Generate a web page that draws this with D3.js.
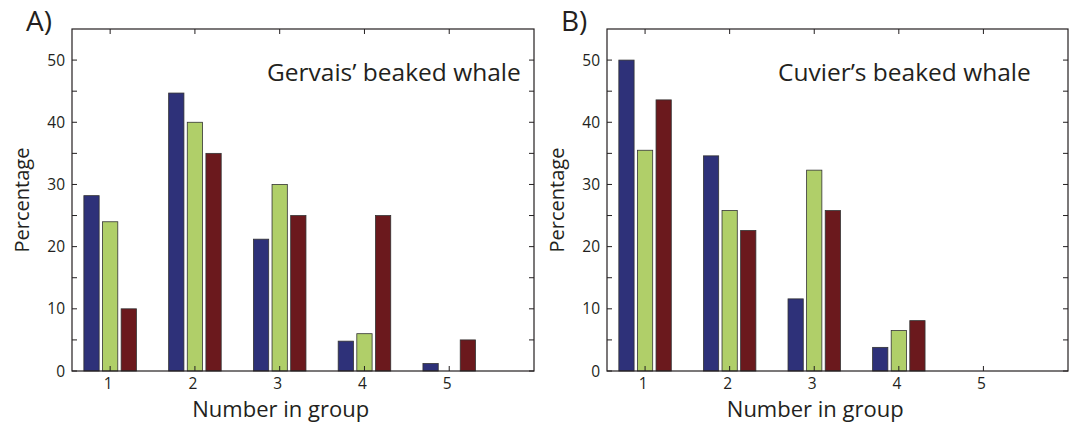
<!DOCTYPE html>
<html>
<head>
<meta charset="utf-8">
<script src="https://cdn.jsdelivr.net/npm/d3@7"></script>
<style>
  body { margin: 0; background: #fff; }
  svg text { font-family: "Open Sans", "Noto Sans", sans-serif; fill: #231f20; }
</style>
</head>
<body>
<svg id="chart" width="1077" height="422"></svg>
<script>
// data (percentage of groups of each size)
const groupSizes = [1, 2, 3, 4, 5];
const seriesNames = ["s1", "s2", "s3"];

const gervaisS1 = [28.2, 44.7, 21.2, 4.8, 1.2];
const gervaisS2 = [24, 40, 30, 6, 0];
const gervaisS3 = [10, 35, 25, 25, 5];

const cuvierS1 = [50, 34.6, 11.6, 3.8, 0];
const cuvierS2 = [35.5, 25.8, 32.3, 6.5, 0];
const cuvierS3 = [43.6, 22.6, 25.8, 8.1, 0];

const yTickLabels = [0, 10, 20, 30, 40, 50];
const yMinorTicks = [5, 15, 25, 35, 45];

const colors = ["#2e3179", "#b0cf69", "#6b191d"];

const panels = [
  { letter: "A)", title: "Gervais\u2019 beaked whale", series: [gervaisS1, gervaisS2, gervaisS3],
    left: 72, right: 534, titleX: 195 },
  { letter: "B)", title: "Cuvier\u2019s beaked whale", series: [cuvierS1, cuvierS2, cuvierS3],
    left: 607, right: 1068, titleX: 171 }
];

const plotTop = 29, plotBottom = 371;
const svg = d3.select("#chart");

// position of each bar inside its group, in data units
const sub = d3.scaleBand()
  .domain(d3.range(seriesNames.length))
  .range([-0.31, 0.31])
  .paddingInner(0.18);

panels.forEach(p => {
  const x = d3.scaleLinear().domain([0.55, 6.0]).range([p.left, p.right]);
  const y = d3.scaleLinear().domain([0, 55]).range([plotBottom, plotTop]);
  const g = svg.append("g");

  // bars
  p.series.forEach((vals, i) => {
    g.selectAll(null)
      .data(vals.map((v, j) => ({ size: groupSizes[j], v })))
      .enter()
      .append("rect")
      .attr("x", d => x(d.size + sub(i)))
      .attr("width", x(sub.bandwidth()) - x(0))
      .attr("y", d => y(d.v))
      .attr("height", d => y(0) - y(d.v))
      .attr("fill", colors[i])
      .attr("stroke", "#333")
      .attr("stroke-width", 0.8);
  });

  // y ticks (inside, left and right)
  const allY = yTickLabels.concat(yMinorTicks);
  g.selectAll(null).data(allY).enter().append("line")
    .attr("x1", p.left).attr("x2", p.left + 5)
    .attr("y1", d => y(d)).attr("y2", d => y(d))
    .attr("stroke", "#231f20");
  g.selectAll(null).data(allY).enter().append("line")
    .attr("x1", p.right).attr("x2", p.right - 5)
    .attr("y1", d => y(d)).attr("y2", d => y(d))
    .attr("stroke", "#231f20");

  // x ticks (inside, bottom and top)
  g.selectAll(null).data(groupSizes).enter().append("line")
    .attr("x1", d => x(d)).attr("x2", d => x(d))
    .attr("y1", plotBottom).attr("y2", plotBottom - 5)
    .attr("stroke", "#231f20");
  g.selectAll(null).data(groupSizes).enter().append("line")
    .attr("x1", d => x(d)).attr("x2", d => x(d))
    .attr("y1", plotTop).attr("y2", plotTop + 5)
    .attr("stroke", "#231f20");

  // frame
  g.append("rect")
    .attr("x", p.left).attr("y", plotTop)
    .attr("width", p.right - p.left).attr("height", plotBottom - plotTop)
    .attr("fill", "none")
    .attr("stroke", "#231f20")
    .attr("stroke-width", 1.2);

  // tick labels
  g.selectAll(null).data(yTickLabels).enter().append("text")
    .attr("x", p.left - 7)
    .attr("y", d => y(d))
    .attr("dy", "0.36em")
    .attr("text-anchor", "end")
    .style("font-size", "15.5px")
    .text(d => d);

  g.selectAll(null).data(groupSizes).enter().append("text")
    .attr("x", d => x(d) - 2)
    .attr("y", 389)
    .attr("text-anchor", "middle")
    .style("font-size", "15.5px")
    .text(d => d);

  // axis titles
  g.append("text")
    .attr("x", x(3) + 1)
    .attr("y", 417)
    .attr("text-anchor", "middle")
    .style("font-size", "22px")
    .text("Number in group");

  g.append("text")
    .attr("transform", `translate(${p.left - 43},${(plotTop + plotBottom) / 2}) rotate(-90)`)
    .attr("text-anchor", "middle")
    .style("font-size", "20px")
    .text("Percentage");

  // species title and panel letter
  g.append("text")
    .attr("x", p.left + p.titleX)
    .attr("y", 81)
    .style("font-size", "24.5px")
    .text(p.title);

  g.append("text")
    .attr("x", p.left - 46)
    .attr("y", 31)
    .style("font-size", "28px")
    .text(p.letter);
});
</script>
</body>
</html>
